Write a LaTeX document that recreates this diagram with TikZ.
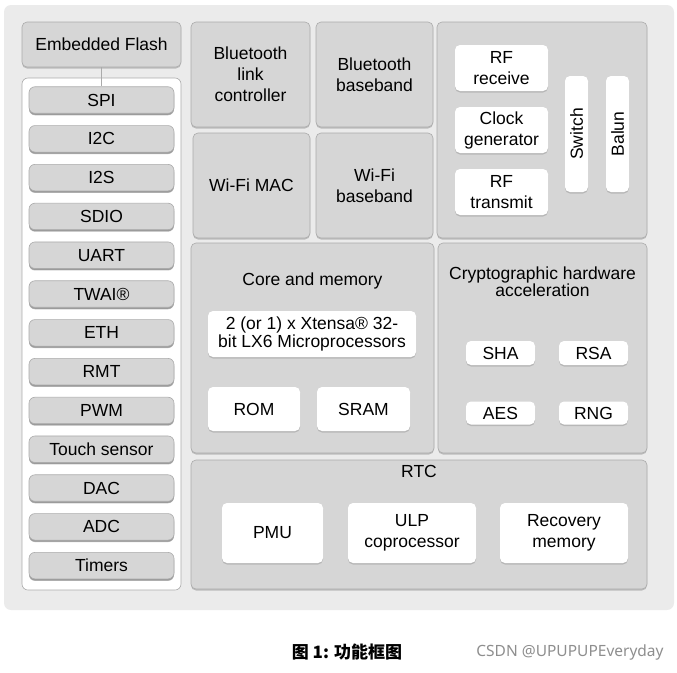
\documentclass[tikz,border=0pt]{standalone}
\usepackage{fontspec}
\setmainfont{Liberation Sans}
\newfontfamily\cjk{Noto Sans CJK SC}
\newfontfamily\wmfont{Noto Sans}
\usetikzlibrary{positioning}
\usetikzlibrary{shadows}

\definecolor{bggray}{HTML}{EBEBEB}
\definecolor{boxgray}{HTML}{D6D6D6}
\definecolor{edgegray}{HTML}{ABABAB}
\definecolor{markgray}{HTML}{8E8E8E}

\begin{document}
\begin{tikzpicture}[x=1pt,y=-1pt,node distance=11.7pt,
	every node/.style={font=\fontsize{17.5}{21}\selectfont,align=center,inner sep=2pt},
	gray block/.style={rectangle,rounded corners=5pt,fill=boxgray,draw=edgegray,line width=.6pt,
		drop shadow={shadow xshift=0pt,shadow yshift=-1.5pt,fill=black!45}},
	white block/.style={rectangle,rounded corners=5pt,fill=white,
		drop shadow={shadow xshift=0pt,shadow yshift=-1.5pt,fill=black!40}},
	pill/.style={gray block,rounded corners=6pt,minimum width=145pt,minimum height=26.5pt,
		drop shadow={shadow xshift=0pt,shadow yshift=-2pt,fill=black!55}}]
	
	\useasboundingbox (0,0) rectangle (677,672);
	\fill[bggray,rounded corners=7pt] (4,5) rectangle (674,610);
	
	% peripherals
	\node[gray block,minimum width=159pt,minimum height=45pt] (flash) at (101.5,44.5) {Embedded Flash};
	\node[rectangle,rounded corners=6pt,fill=white,draw=edgegray,line width=.6pt,
		minimum width=159pt,minimum height=512pt] (panel) at (101.5,334) {};
	\node[pill] (spi) at (101.5,100) {SPI};
	\node[pill] (i2c) [below=of spi] {I2C};
	\node[pill] (i2s) [below=of i2c] {I2S};
	\node[pill] (sdio) [below=of i2s] {SDIO};
	\node[pill] (uart) [below=of sdio] {UART};
	\node[pill] (twai) [below=of uart] {TWAI®};
	\node[pill] (eth) [below=of twai] {ETH};
	\node[pill] (rmt) [below=of eth] {RMT};
	\node[pill] (pwm) [below=of rmt] {PWM};
	\node[pill] (touch) [below=of pwm] {Touch sensor};
	\node[pill] (dac) [below=of touch] {DAC};
	\node[pill] (adc) [below=of dac] {ADC};
	\node[pill] (timers) [below=of adc] {Timers};
	\draw[edgegray,line width=.8pt] (flash) -- (spi);
	
	% radio
	\node[gray block,minimum width=119pt,minimum height=105pt] (btlc) at (250.5,74.5) {Bluetooth\\link\\controller};
	\node[gray block,minimum width=117pt,minimum height=105pt] (btbb) at (374.5,74.5) {Bluetooth\\baseband};
	\node[gray block,minimum width=117pt,minimum height=105pt] (wifimac) at (251.5,185.5) {Wi-Fi MAC};
	\node[gray block,minimum width=117pt,minimum height=105pt] (wifibb) at (374.5,185.5) {Wi-Fi\\baseband};
	\node[gray block,minimum width=210pt,minimum height=216pt] (rf) at (542,130) {};
	\node[white block,minimum width=93pt,minimum height=46pt] (rfrx) at (501.5,68) {RF\\receive};
	\node[white block,minimum width=93pt,minimum height=46pt] (clk) at (501.5,130) {Clock\\generator};
	\node[white block,minimum width=93pt,minimum height=46pt] (rftx) at (501.5,192) {RF\\transmit};
	\node[white block,minimum width=23pt,minimum height=116pt] (switch) at (576.5,134) {\rotatebox{90}{Switch}};
	\node[white block,minimum width=23pt,minimum height=116pt] (balun) at (617.5,134) {\rotatebox{90}{Balun}};
	
	% core and crypto
	\node[gray block,minimum width=243pt,minimum height=210pt] (core) at (312.5,348) {};
	\node (coretitle) at (312.5,281) {Core and memory};
	\node[white block,minimum width=208pt,minimum height=46pt,font=\fontsize{17.5}{18}\selectfont] (cpu) at (312,334)
		{2 (or 1) x Xtensa® 32-\\bit LX6 Microprocessors};
	\node[white block,minimum width=92pt,minimum height=44pt] (rom) at (254,409) {ROM};
	\node[white block,minimum width=93pt,minimum height=44pt] (sram) at (363.5,409) {SRAM};
	\node[gray block,minimum width=209pt,minimum height=210pt] (crypto) at (542.5,348) {};
	\node[font=\fontsize{17.5}{17}\selectfont] (cryptotitle) at (542.5,282) {Cryptographic hardware\\acceleration};
	\node[white block,minimum width=69pt,minimum height=24pt] (sha) at (500.5,353) {SHA};
	\node[white block,minimum width=69pt,minimum height=24pt] (rsa) at (593.5,353) {RSA};
	\node[white block,minimum width=69pt,minimum height=23pt] (aes) at (500.5,413) {AES};
	\node[white block,minimum width=69pt,minimum height=23pt] (rng) at (593.5,413) {RNG};
	
	% rtc
	\node[gray block,minimum width=456pt,minimum height=129pt] (rtc) at (419,524.5) {};
	\node (rtctitle) at (419,471) {RTC};
	\node[white block,minimum width=101pt,minimum height=60pt] (pmu) at (272.5,533) {PMU};
	\node[white block,minimum width=128pt,minimum height=60pt] (ulp) at (412,533) {ULP\\coprocessor};
	\node[white block,minimum width=128pt,minimum height=60pt] (recmem) at (564,533) {Recovery\\memory};
	
	\node[font=\cjk\bfseries\fontsize{17}{20}\selectfont] (caption) at (347,652) {图 1: 功能框图};
	\node[font=\wmfont\fontsize{15.5}{18}\selectfont,text=markgray] (mark) at (570,652) {CSDN @UPUPUPEveryday};
\end{tikzpicture}
\end{document}
